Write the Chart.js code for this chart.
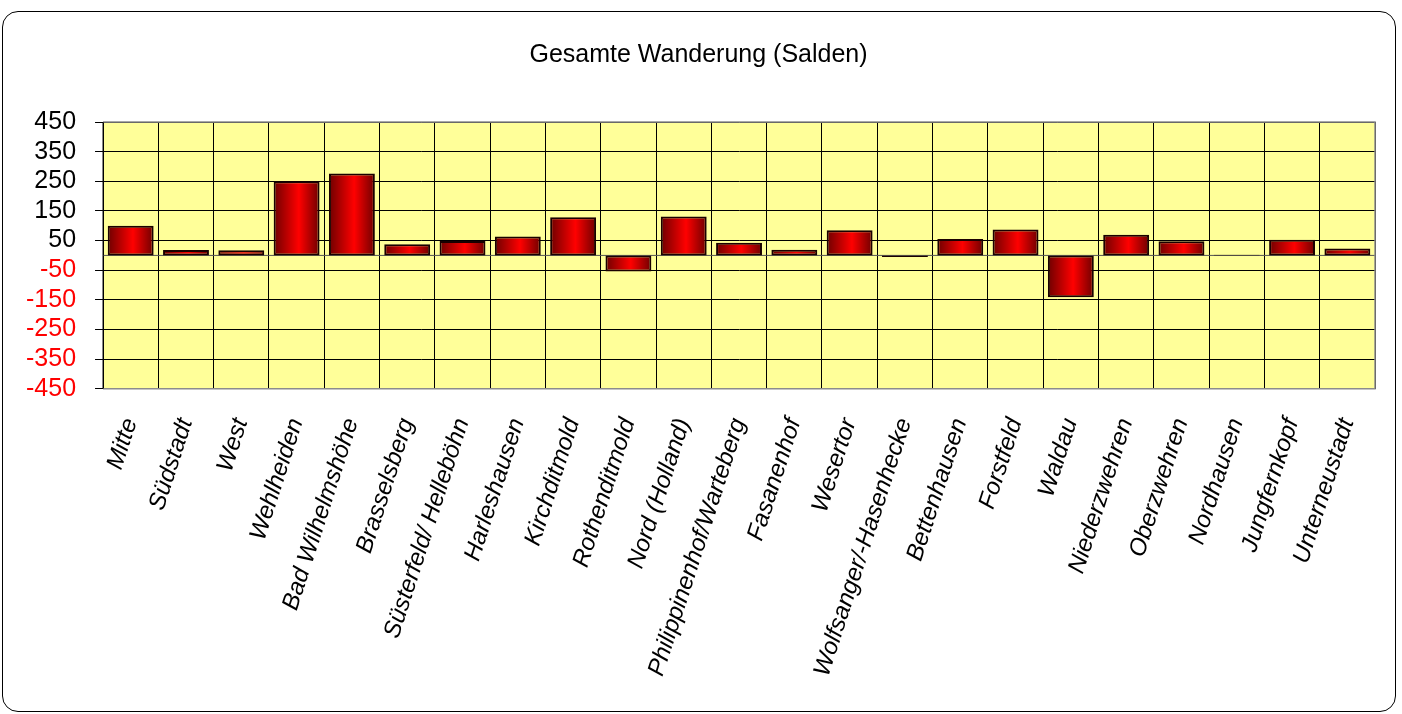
<!DOCTYPE html>
<html>
<head>
<meta charset="utf-8">
<script src="https://cdn.jsdelivr.net/npm/chart.js@4.4.0/dist/chart.umd.min.js"></script>
<style>
    html, body { margin: 0; padding: 0; background: #fff; }
    body { width: 1402px; height: 714px; position: relative; overflow: hidden; }
    .frame {
        position: absolute;
        left: 2px; top: 11px;
        width: 1392px; height: 699px;
        border: 1.5px solid #000;
        border-radius: 16px;
        background: #fff;
    }
    .frame canvas { position: absolute; left: 0; top: 0; }
</style>
</head>
<body>

<div class="frame">
    <canvas id="wanderungChart" width="1398" height="699"></canvas>
</div>

<script>

/* =========================
   DATA
========================= */

const chartTitle = "Gesamte Wanderung (Salden)";

const districts = [
    "Mitte", "Südstadt", "West", "Wehlheiden", "Bad Wilhelmshöhe",
    "Brasselsberg", "Süsterfeld/ Helleböhn", "Harleshausen", "Kirchditmold",
    "Rothenditmold", "Nord (Holland)", "Philippinenhof/Warteberg", "Fasanenhof",
    "Wesertor", "Wolfsanger/-Hasenhecke", "Bettenhausen", "Forstfeld", "Waldau",
    "Niederzwehren", "Oberzwehren", "Nordhausen", "Jungfernkopf", "Unterneustadt"
];

const salden = [
    100, 18, 17, 250, 276,
    38, 49, 64, 129,
    -54, 131, 43, 19,
    85, -5, 55, 87, -141,
    70, 48, 2, 53, 23
];

const yMin = -450;
const yMax = 450;
const yStep = 100;

/* =========================
   PLUGINS
========================= */

const plotBackground = {
    id: "plotBackground",
    beforeDraw(chart){
        const a = chart.chartArea;
        const c = chart.ctx;
        c.save();
        c.fillStyle = "#ffff99";
        c.fillRect(a.left, a.top, a.right - a.left, a.bottom - a.top);
        c.restore();
    }
};

const zeroLine = {
    id: "zeroLine",
    beforeDatasetsDraw(chart){
        const a = chart.chartArea;
        const c = chart.ctx;
        const y0 = chart.scales.y.getPixelForValue(0);
        c.save();
        c.strokeStyle = "#555";
        c.lineWidth = 1;
        c.beginPath();
        c.moveTo(a.left, y0);
        c.lineTo(a.right, y0);
        c.stroke();
        c.restore();
    },
    afterDraw(chart){
        // grey frame round the plot area
        const a = chart.chartArea;
        const c = chart.ctx;
        c.save();
        c.strokeStyle = "#8c8c8c";
        c.lineWidth = 1.5;
        c.beginPath();
        c.moveTo(a.left, a.top);
        c.lineTo(a.right, a.top);
        c.lineTo(a.right, a.bottom);
        c.lineTo(a.left, a.bottom);
        c.stroke();
        c.strokeStyle = "#000";
        c.lineWidth = 1;
        c.beginPath();
        c.moveTo(a.left, a.top);
        c.lineTo(a.left, a.bottom);
        c.stroke();
        c.restore();
    }
};

/* =========================
   BAR GRADIENT
========================= */

const BAR_PCT = 0.83;

function barFill(context){

    const chart = context.chart;
    const xs = chart.scales.x;

    if(!xs || !chart.chartArea){
        return "#e00000";
    }

    const cx = xs.getPixelForValue(context.dataIndex);
    const half = (xs.width / districts.length) * BAR_PCT / 2;

    const g = chart.ctx.createLinearGradient(cx - half, 0, cx + half, 0);
    g.addColorStop(0, "#6e0000");
    g.addColorStop(0.55, "#ff0000");
    g.addColorStop(1, "#6e0000");

    return g;
}

/* =========================
   CHART
========================= */

Chart.defaults.font.family = "'Liberation Sans', Arial, sans-serif";
Chart.defaults.color = "#000";

new Chart(document.getElementById("wanderungChart"), {

    type: "bar",

    data: {
        labels: districts,
        datasets: [{
            data: salden,
            backgroundColor: barFill,
            borderColor: "#1a0000",
            borderWidth: 2,
            borderSkipped: false,
            barPercentage: BAR_PCT,
            categoryPercentage: 1
        }]
    },

    options: {

        responsive: false,
        animation: false,

        layout: {
            padding: { left: 4, right: 11, top: 0, bottom: 5 }
        },

        plugins: {
            legend: { display: false },
            tooltip: { enabled: false },
            title: {
                display: true,
                text: chartTitle,
                color: "#000",
                font: { size: 25, weight: "normal" },
                padding: { top: 28, bottom: 52 }
            }
        },

        scales: {

            x: {
                grid: {
                    color: "#000",
                    lineWidth: 1,
                    offset: true,
                    drawTicks: false
                },
                border: { display: false },
                ticks: {
                    autoSkip: false,
                    minRotation: 72,
                    maxRotation: 72,
                    padding: 26,
                    color: "#000",
                    font: { size: 24, style: "italic" }
                }
            },

            y: {
                min: yMin,
                max: yMax,
                grid: {
                    color: "#000",
                    lineWidth: 1,
                    tickLength: 8,
                    tickColor: "#000"
                },
                border: { display: true, color: "#000" },
                ticks: {
                    autoSkip: false,
                    stepSize: yStep,
                    padding: 19,
                    color: ctx => ctx.tick.value < 0 ? "#ff0000" : "#000",
                    font: { size: 25 }
                }
            }

        }

    },

    plugins: [plotBackground, zeroLine]

});

</script>
</body>
</html>
